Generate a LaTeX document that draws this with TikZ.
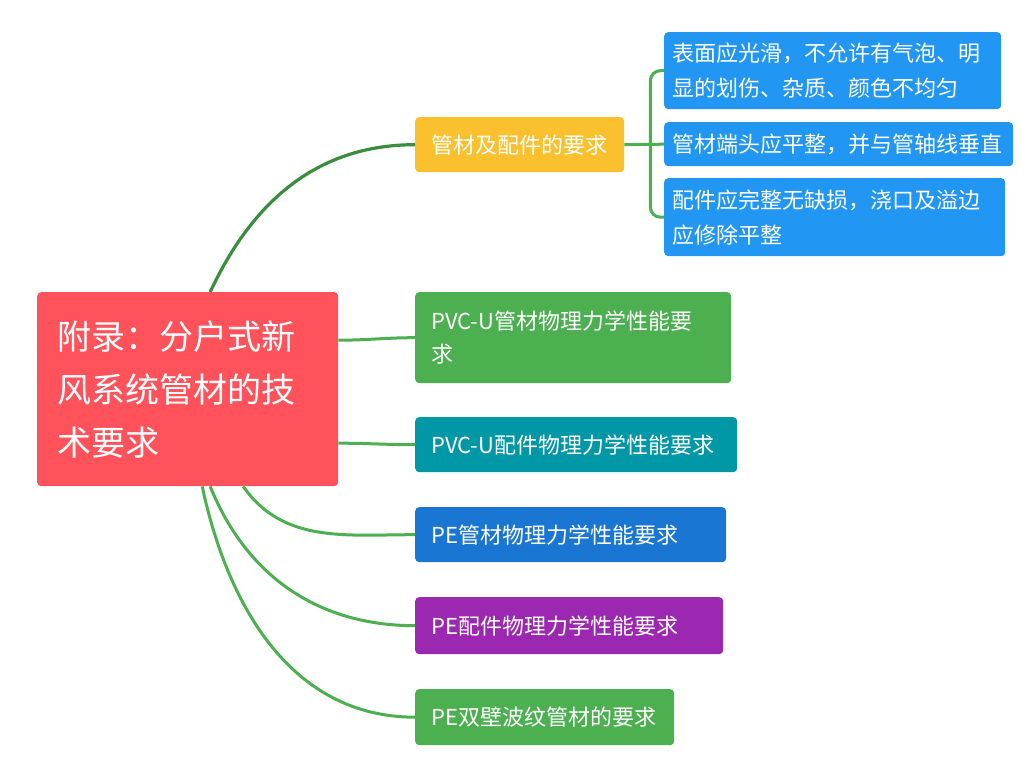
\documentclass[tikz,border=0pt]{standalone}
\usepackage{fontspec}
\setmainfont{Noto Sans CJK SC}
\usetikzlibrary{calc}
\definecolor{rootc}{HTML}{FF525A}
\definecolor{orangec}{HTML}{FBC02D}
\definecolor{bluec}{HTML}{2196F3}
\definecolor{greenc}{HTML}{4CAF50}
\definecolor{tealc}{HTML}{0097A7}
\definecolor{pebluec}{HTML}{1976D2}
\definecolor{purplec}{HTML}{9C27B0}
\definecolor{lineg}{HTML}{4CAF50}
\definecolor{darkg}{HTML}{388E3C}
\tikzset{
  mbox/.style={anchor=north west, rounded corners=4pt, text=white, align=left,
    inner ysep=0pt, font=\fontsize{22}{34}\selectfont},
  rootbox/.style={mbox, fill=rootc, inner xsep=20pt, font=\fontsize{34}{53}\selectfont},
  brbox/.style={mbox, inner xsep=16pt},
  leafbox/.style={mbox, fill=bluec, inner xsep=8pt, font=\fontsize{22}{35}\selectfont},
  conn/.style={lineg, line width=3pt},
  dconn/.style={darkg, line width=3.2pt},
}
\begin{document}
\begin{tikzpicture}[x=1pt,y=1pt]
\useasboundingbox (0,0) rectangle (1033,759);
% root
\node[rootbox, minimum width=301pt, minimum height=194pt, text width=261pt] (root) at (37,467)
  {附录：分户式新\\风系统管材的技\\术要求};
% first branch
\node[brbox, fill=orangec, minimum width=209pt, minimum height=55pt, text width=177pt] (t1) at (415,642)
  {管材及配件的要求};
\node[leafbox, minimum width=337pt, minimum height=77pt, text width=321pt] (b1) at (664,727)
  {表面应光滑，不允许有气泡、明\\显的划伤、杂质、颜色不均匀};
\node[leafbox, minimum width=349pt, minimum height=44pt, text width=333pt] (b2) at (664,637)
  {管材端头应平整，并与管轴线垂直};
\node[leafbox, minimum width=341pt, minimum height=78pt, text width=325pt] (b3) at (664,581)
  {配件应完整无缺损，浇口及溢边\\应修除平整};
% other branches
\node[brbox, fill=greenc, minimum width=316pt, minimum height=91pt, text width=284pt,
  font=\fontsize{22}{33}\selectfont] (n2) at (415,467)
  {PVC-U管材物理力学性能要\\求};
\node[brbox, fill=tealc, minimum width=322pt, minimum height=55pt, text width=290pt] (n3) at (415,342)
  {PVC-U配件物理力学性能要求};
\node[brbox, fill=pebluec, minimum width=311pt, minimum height=55pt, text width=279pt] (n4) at (415,252)
  {PE管材物理力学性能要求};
\node[brbox, fill=purplec, minimum width=308pt, minimum height=57pt, text width=276pt] (n5) at (415,162)
  {PE配件物理力学性能要求};
\node[brbox, fill=greenc, minimum width=259pt, minimum height=56pt, text width=227pt] (n6) at (415,70)
  {PE双壁波纹管材的要求};
% connectors from root
\draw[dconn] ([xshift=22.5pt]root.north) to[out=65,in=180] (t1.west);
\draw[conn] ([yshift=49pt]root.east) to[out=0,in=180] (n2.west);
\draw[conn] ([yshift=-54pt]root.east) to[out=0,in=180] (n3.west);
\draw[conn] ([xshift=55.5pt]root.south) to[out=-55,in=180] (n4.west);
\draw[conn] ([xshift=22.5pt]root.south) to[out=-68,in=180] (n5.west);
\draw[conn] ([xshift=14.5pt]root.south) to[out=-78,in=180] (n6.west);
% bracket
\coordinate (br) at ([xshift=26pt]t1.east);
\draw[conn] (t1.east) -- (b2.west);
\draw[conn, rounded corners=10pt] (b1.west) -| (br) |- (b3.west);
\end{tikzpicture}
\end{document}
